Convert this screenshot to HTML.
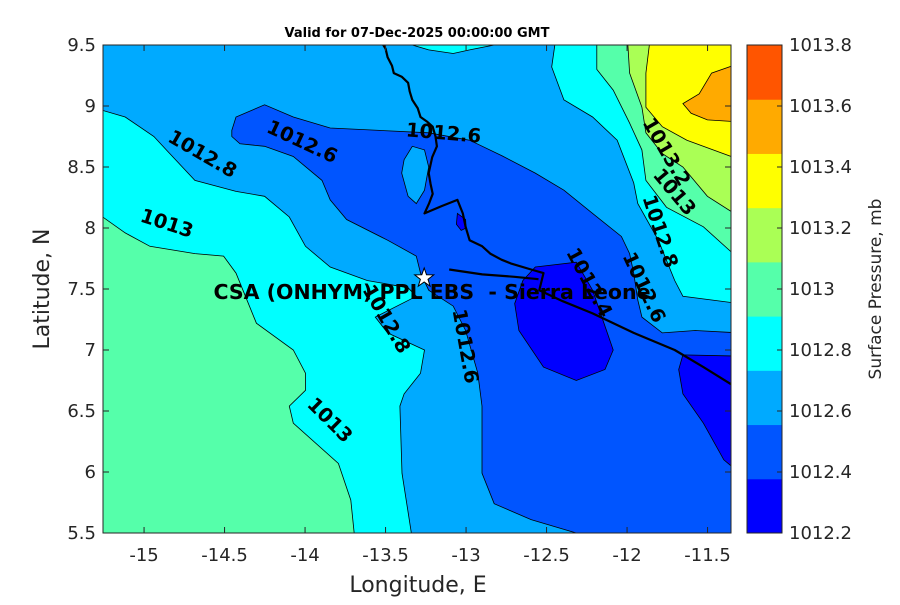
<!DOCTYPE html>
<html><head><meta charset="utf-8"><style>
html,body{margin:0;padding:0;background:#fff}
svg text{font-family:"DejaVu Sans","Liberation Sans",sans-serif}
</style></head><body>
<svg id="chart" width="900" height="600" xmlns="http://www.w3.org/2000/svg">
<defs><clipPath id="clip"><rect x="103" y="45" width="628" height="488"/></clipPath></defs>
<rect width="900" height="600" fill="#fff"/>
<text x="417" y="37" font-size="13" font-weight="bold" text-anchor="middle" fill="#000">Valid for 07-Dec-2025 00:00:00 GMT</text>
<g id="map" clip-path="url(#clip)"></g>
<g id="axes"></g>
<g id="cbar"></g>
</svg>
<script>
const xTicks=[-15,-14.5,-14,-13.5,-13,-12.5,-12,-11.5];
const yTicks=[5.5,6,6.5,7,7.5,8,8.5,9,9.5];
const cbarTicks=[1012.2,1012.4,1012.6,1012.8,1013,1013.2,1013.4,1013.6,1013.8];
const cbarColors=["#0000ff","#0055ff","#00aaff","#00ffff","#55ffaa","#aaff55","#ffff00","#ffaa00","#ff5500"];
const cyanW=[[-15.3,8.98],[-15.117,8.91],[-14.939,8.75],[-14.862,8.64],[-14.684,8.39],[-14.429,8.30],[-14.251,8.26],[-14.098,8.09],[-13.997,7.85],[-13.844,7.68],[-13.614,7.57],[-13.36,7.51],[-13.309,7.44],[-13.564,7.27],[-13.487,7.14],[-13.258,7.0],[-13.283,6.81],[-13.385,6.64],[-13.411,6.54],[-13.398,5.99],[-13.334,5.45],[-15.3,5.45]];
const greenW=[[-15.3,8.13],[-15.117,7.96],[-14.964,7.85],[-14.684,7.79],[-14.506,7.77],[-14.429,7.63],[-14.302,7.22],[-14.073,7.0],[-13.997,6.81],[-13.997,6.67],[-14.098,6.54],[-14.073,6.40],[-13.793,6.07],[-13.716,5.77],[-13.691,5.45],[-15.3,5.45]];
const blueMid=[[-14.455,8.80],[-14.429,8.91],[-14.251,9.01],[-14.073,8.91],[-13.844,8.82],[-13.538,8.80],[-13.232,8.78],[-12.978,8.72],[-12.774,8.59],[-12.570,8.45],[-12.392,8.31],[-12.214,8.12],[-12.035,7.93],[-11.984,7.79],[-11.959,7.63],[-11.933,7.41],[-11.908,7.27],[-11.781,7.14],[-11.577,7.16],[-11.3,7.14],[-11.3,5.45],[-12.188,5.45],[-12.596,5.61],[-12.825,5.74],[-12.901,5.99],[-12.901,6.54],[-12.927,6.81],[-13.003,7.16],[-13.080,7.36],[-13.232,7.49],[-13.283,7.63],[-13.309,7.77],[-13.487,7.90],[-13.742,8.07],[-13.844,8.23],[-13.895,8.39],[-14.073,8.586],[-14.251,8.67],[-14.404,8.69],[-14.455,8.75]];
const holeMid=[[-13.385,8.56],[-13.334,8.67],[-13.258,8.64],[-13.232,8.50],[-13.258,8.31],[-13.309,8.20],[-13.36,8.26],[-13.40,8.45]];
const cyanTop=[[-13.36,9.55],[-13.334,9.50],[-13.232,9.46],[-13.08,9.43],[-12.978,9.46],[-12.825,9.50],[-12.80,9.55]];
const blueOval=[[-12.570,7.68],[-12.315,7.72],[-12.214,7.49],[-12.086,7.0],[-12.137,6.84],[-12.315,6.75],[-12.519,6.86],[-12.672,7.16],[-12.698,7.38],[-12.647,7.57]];
const blueRight=[[-11.653,6.96],[-11.3,6.95],[-11.3,5.99],[-11.399,6.10],[-11.526,6.40],[-11.653,6.64],[-11.679,6.84]];
const blueBlob=[[-13.054,8.12],[-13.003,8.07],[-13.0,8.0],[-13.03,7.98],[-13.06,8.03]];
const cyanE=[[-12.443,9.55],[-12.468,9.32],[-12.392,9.05],[-12.214,8.91],[-12.061,8.72],[-11.959,8.37],[-11.933,8.20],[-11.806,7.90],[-11.704,7.57],[-11.653,7.44],[-11.3,7.38],[-11.3,9.55]];
const greenE=[[-12.188,9.55],[-12.188,9.30],[-12.086,9.13],[-11.984,8.86],[-11.908,8.64],[-11.883,8.39],[-11.755,8.17],[-11.526,8.01],[-11.3,7.74],[-11.3,9.55]];
const limeE=[[-11.997,9.55],[-11.984,9.27],[-11.908,8.99],[-11.883,8.78],[-11.781,8.61],[-11.653,8.50],[-11.501,8.26],[-11.3,8.09],[-11.3,9.55]];
const yellowE=[[-11.857,9.55],[-11.883,9.27],[-11.883,8.99],[-11.781,8.83],[-11.628,8.72],[-11.3,8.56],[-11.3,9.55]];
const orangeE=[[-11.3,9.35],[-11.475,9.27],[-11.552,9.10],[-11.653,9.02],[-11.602,8.94],[-11.501,8.886],[-11.3,8.87]];
const coast1=[[-13.538,9.55],[-13.50,9.47],[-13.487,9.40],[-13.46,9.33],[-13.449,9.27],[-13.40,9.24],[-13.36,9.19],[-13.35,9.12],[-13.334,9.05],[-13.30,8.98],[-13.283,8.91],[-13.24,8.87],[-13.207,8.83],[-13.19,8.75],[-13.181,8.67],[-13.21,8.58],[-13.232,8.45],[-13.22,8.36],[-13.207,8.28],[-13.23,8.20],[-13.258,8.12],[-13.15,8.18],[-13.054,8.23],[-13.02,8.12],[-13.003,8.01],[-12.978,7.90],[-12.90,7.85],[-12.850,7.79],[-12.78,7.74],[-12.723,7.71],[-12.596,7.66],[-12.519,7.63],[-12.545,7.49],[-12.40,7.40],[-12.214,7.30],[-11.959,7.14],[-11.704,7.00],[-11.526,6.86],[-11.33,6.70]];
const coast2=[[-13.105,7.66],[-12.9,7.62],[-12.7,7.60],[-12.55,7.58]];
const site=[-13.26,7.59];
const contourLabels=[["1012.8",-14.64,8.60,30],["1012.6",-14.02,8.70,25],["1012.6",-13.14,8.77,5],["1013",-14.86,8.03,18],["1013.2",-11.76,8.62,60],["1013",-11.71,8.29,50],["1012.8",-11.80,7.97,72],["1012.6",-11.90,7.51,65],["1012.4",-12.24,7.55,62],["1012.8",-13.50,7.25,60],["1012.6",-13.01,7.03,80],["1013",-13.85,6.42,45]];

const X=lon=>103+(lon+15.255)*161;
const Y=lat=>45+(9.5-lat)*122;
const NS="http://www.w3.org/2000/svg";
function mk(tag,attrs,parent){const e=document.createElementNS(NS,tag);for(const k in attrs)e.setAttribute(k,attrs[k]);parent.appendChild(e);return e;}
const map=document.getElementById('map');
mk('rect',{x:103,y:45,width:628,height:488,fill:'#00aaff'},map);
function poly(pts,fill,name){const p=mk('polygon',{points:pts.map(q=>X(q[0]).toFixed(1)+','+Y(q[1]).toFixed(1)).join(' '),fill:fill,stroke:'#000','stroke-width':0.8},map);

}
poly(cyanW,'#00ffff','contour-fill-west-1012-8');
poly(greenW,'#55ffaa','contour-fill-west-1013');
poly(blueMid,'#0055ff','contour-fill-central-1012-4');
poly(holeMid,'#00aaff','contour-fill-lake-1012-6');
poly(cyanTop,'#00ffff','contour-fill-top-1012-8');
poly(blueOval,'#0000ff','contour-fill-low-1012-2');
poly(blueRight,'#0000ff','contour-fill-low-east');
poly(blueBlob,'#0000ff','contour-fill-low-blob');
poly(cyanE,'#00ffff','contour-fill-east-1012-8');
poly(greenE,'#55ffaa','contour-fill-east-1013');
poly(limeE,'#aaff55','contour-fill-east-1013-2');
poly(yellowE,'#ffff00','contour-fill-east-1013-4');
poly(orangeE,'#ffaa00','contour-fill-east-1013-6');
function line(pts,name){const p=mk('polyline',{points:pts.map(q=>X(q[0]).toFixed(1)+','+Y(q[1]).toFixed(1)).join(' '),fill:'none',stroke:'#000','stroke-width':2.2,'stroke-linejoin':'round'},map);

}
line(coast1,'coastline');
line(coast2,'coastline-south');
contourLabels.forEach(c=>{const t=mk('text',{x:X(c[1]),y:Y(c[2]),'font-size':19.5,'font-weight':'bold','text-anchor':'middle','dominant-baseline':'middle',transform:`rotate(${c[3]} ${X(c[1])} ${Y(c[2])})`,fill:'#000'},map);t.textContent=c[0];

});
const sx=X(site[0]),sy=Y(site[1]);
let sp=[];for(let i=0;i<10;i++){const r=i%2?4:10,a=-Math.PI/2+i*Math.PI/5;sp.push((sx+r*Math.cos(a)).toFixed(1)+','+(sy+r*Math.sin(a)).toFixed(1));}
const star=mk('polygon',{points:sp.join(' '),fill:'#fff',stroke:'#000','stroke-width':1},map);


const sl=mk('text',{x:432,y:299,'font-size':20.5,'font-weight':'bold','text-anchor':'middle',fill:'#000','white-space':'pre',style:'white-space:pre'},map);sl.textContent='CSA (ONHYM) PPL EBS  - Sierra Leone';



const ax=document.getElementById('axes');
const fr=mk('rect',{x:103,y:45,width:628,height:488,fill:'none',stroke:'#262626','stroke-width':1},ax);


xTicks.forEach(v=>{const x=X(v);mk('line',{x1:x,x2:x,y1:533,y2:527,stroke:'#262626'},ax);mk('line',{x1:x,x2:x,y1:45,y2:51,stroke:'#262626'},ax);
const t=mk('text',{x:x,y:561,'font-size':18,'text-anchor':'middle',fill:'#262626'},ax);t.textContent=String(v);

});
yTicks.forEach(v=>{const y=Y(v);mk('line',{x1:103,x2:109,y1:y,y2:y,stroke:'#262626'},ax);mk('line',{x1:731,x2:725,y1:y,y2:y,stroke:'#262626'},ax);
const t=mk('text',{x:96,y:y+6,'font-size':18,'text-anchor':'end',fill:'#262626'},ax);t.textContent=String(v);

});
const xl=mk('text',{x:418,y:592,'font-size':22,'text-anchor':'middle',fill:'#262626'},ax);xl.textContent='Longitude, E';


const yl=mk('text',{x:49,y:289,'font-size':22,'text-anchor':'middle',fill:'#262626',transform:'rotate(-90 49 289)'},ax);yl.textContent='Latitude, N';



const cb=document.getElementById('cbar');
const cbTop=45,cbBot=533,n=cbarColors.length,bh=(cbBot-cbTop)/n;
cbarColors.forEach((c,i)=>{const r=mk('rect',{x:747,y:cbBot-(i+1)*bh,width:35,height:bh+0.5,fill:c},cb);

});
mk('rect',{x:747,y:45,width:35,height:488,fill:'none',stroke:'#262626'},cb);
const lo=cbarTicks[0],hi=cbarTicks[cbarTicks.length-1];
cbarTicks.forEach(v=>{const y=cbBot-(v-lo)/(hi-lo)*(cbBot-cbTop);mk('line',{x1:782,x2:777,y1:y,y2:y,stroke:'#262626'},cb);
const t=mk('text',{x:789,y:y+6,'font-size':18,fill:'#262626'},cb);t.textContent=String(v);

});
const cl=mk('text',{x:881,y:289,'font-size':17,'text-anchor':'middle',fill:'#262626',transform:'rotate(-90 881 289)'},cb);cl.textContent='Surface Pressure, mb';


</script>
</body></html>
